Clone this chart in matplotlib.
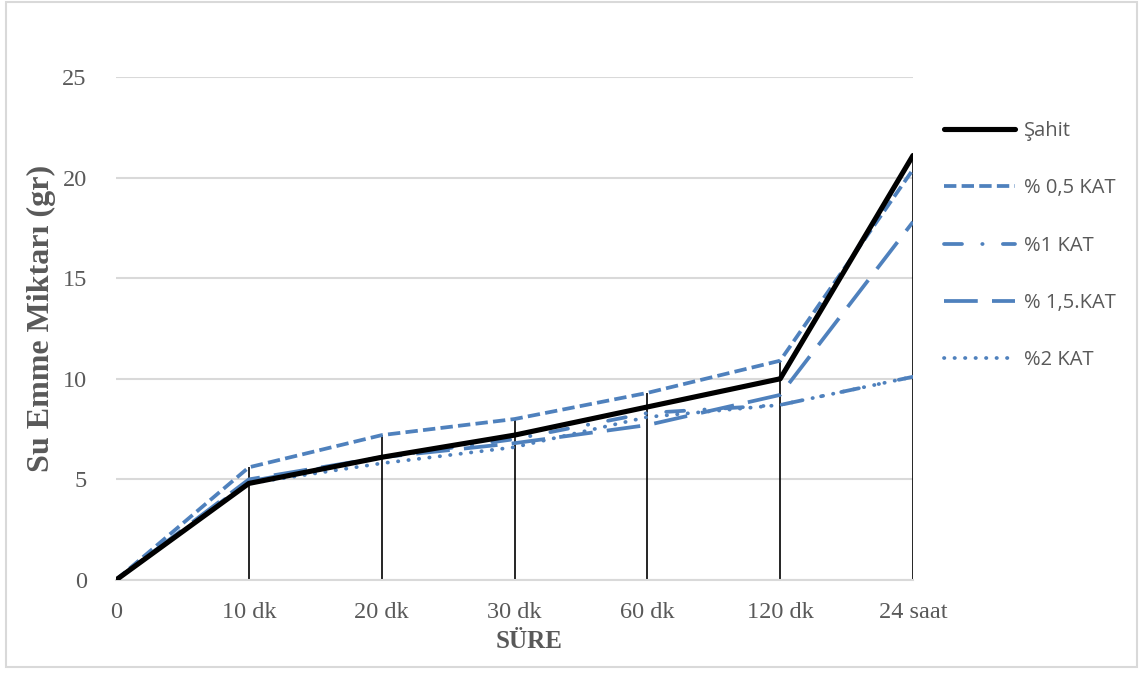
import matplotlib
matplotlib.use("Agg")
import matplotlib.pyplot as plt
from matplotlib.patches import Rectangle
import numpy as np

categories = ["0", "10 dk", "20 dk", "30 dk", "60 dk", "120 dk", "24 saat"]
sahit = [0, 4.8, 6.1, 7.2, 8.6, 10.0, 21.1]
kat_05 = [0, 5.6, 7.2, 8.0, 9.3, 10.9, 20.4]
kat_1 = [0, 4.9, 6.1, 7.0, 8.3, 8.7, 10.1]
kat_15 = [0, 5.0, 6.1, 6.8, 7.7, 9.2, 17.8]
kat_2 = [0, 4.8, 5.8, 6.6, 8.1, 8.7, 10.1]
labels = ["Şahit", "% 0,5 KAT", "%1 KAT", "% 1,5.KAT", "%2 KAT"]

blue = "#4F81BD"
gray_txt = "#595959"
grid_c = "#D9D9D9"

fig = plt.figure(figsize=(11.44, 6.75), dpi=100)
ax = fig.add_axes([116/1144, 1 - 580/675, (913-116)/1144, (580-77)/675])

x = np.arange(len(categories))
series = [sahit, kat_05, kat_1, kat_15, kat_2]

# drop lines
tops = np.max(np.array(series), axis=0)
ax.vlines(x[1:], 0, tops[1:], color="black", lw=1.2, zorder=2)

lwb = 2.7
handles = []
h, = ax.plot(x, sahit, color="black", lw=3.7, solid_capstyle="round",
             solid_joinstyle="round", zorder=5)
handles.append(h)
h, = ax.plot(x, kat_05, color=blue, lw=lwb, dashes=(3.3, 1.4), zorder=4)
handles.append(h)
h, = ax.plot(x, kat_1, color=blue, lw=lwb, dashes=(4.8, 5.4, 0.1, 5.4),
             dash_capstyle="round", zorder=4)
handles.append(h)
h, = ax.plot(x, kat_15, color=blue, lw=lwb, dashes=(9, 3.8), zorder=4)
handles.append(h)
h, = ax.plot(x, kat_2, color=blue, lw=lwb, dashes=(0.1, 2.7),
             dash_capstyle="round", zorder=4)
handles.append(h)

ax.set_xlim(0, len(categories) - 1)
ax.set_ylim(0, 25)
ax.set_yticks([0, 5, 10, 15, 20, 25])
ax.set_xticks(x)
ax.set_xticklabels(categories)
ax.yaxis.grid(True, color=grid_c, lw=1.5)
ax.set_axisbelow(True)
for s in ["top", "right", "left"]:
    ax.spines[s].set_visible(False)
ax.spines["bottom"].set_color(grid_c)
ax.spines["bottom"].set_linewidth(1.5)
ax.tick_params(axis="both", length=0, labelsize=17.5, labelcolor=gray_txt,
               labelfontfamily="Liberation Serif")
ax.tick_params(axis="y", pad=21)
ax.tick_params(axis="x", pad=16)

ax.set_ylabel("Su Emme Miktarı (gr)", fontsize=23, fontweight="bold",
              family="Liberation Serif", color=gray_txt)
ax.yaxis.set_label_coords((41 - 116) / 797, (580 - 318) / 503)
ax.set_xlabel("SÜRE", fontsize=18, fontweight="bold",
              family="Liberation Serif", color=gray_txt)
ax.xaxis.set_label_coords((529 - 116) / 797, -(641 - 580) / 503)
ax.xaxis.label.set_va("center")
ax.yaxis.label.set_va("center")

leg = fig.legend(handles, labels, loc="upper left",
                 bbox_to_anchor=(936/1144, 1 - 113/675),
                 frameon=False, prop={"family": "Open Sans", "size": 14.5},
                 labelcolor=gray_txt, handlelength=3.5, handletextpad=0.45,
                 labelspacing=1.85, borderaxespad=0)

fig.patches.append(Rectangle((6/1144, 8/675), 1131/1144, 665/675,
                             transform=fig.transFigure, fill=False,
                             edgecolor=grid_c, lw=1.5))

fig.savefig("out.png", dpi=100)
